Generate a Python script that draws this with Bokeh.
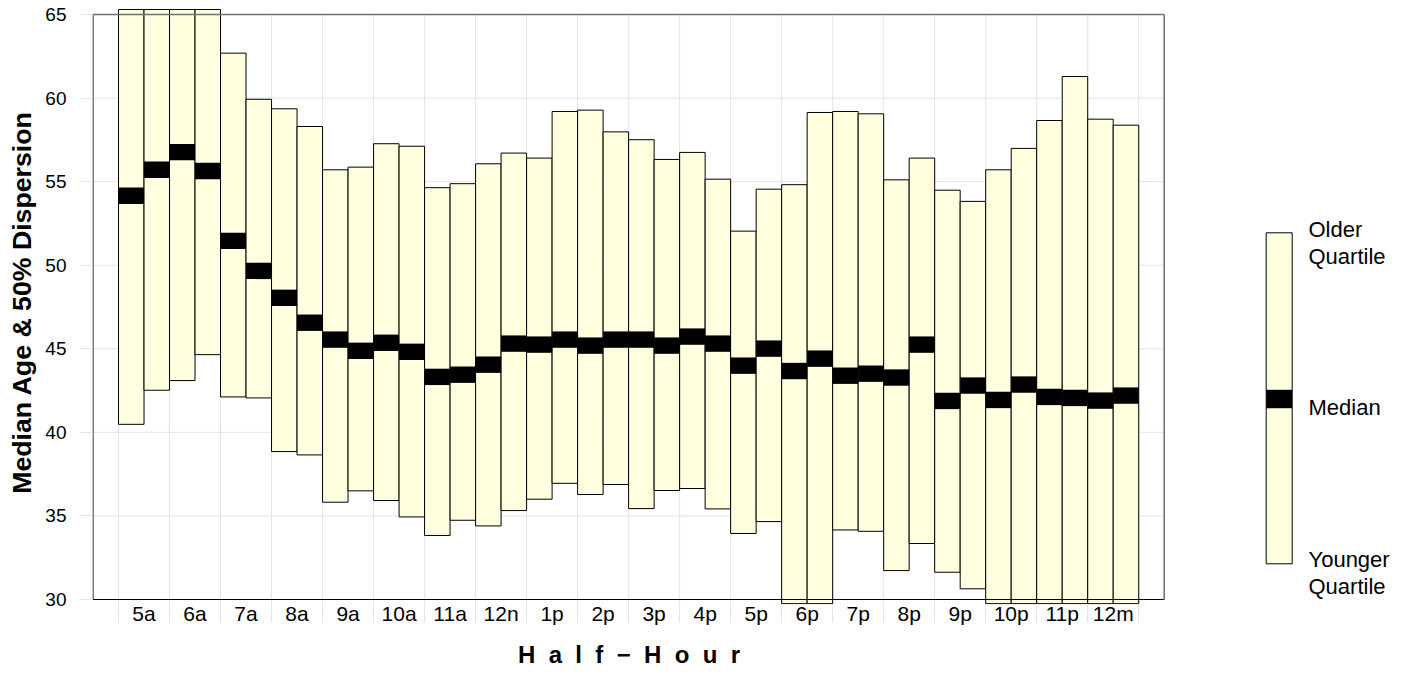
from bokeh.plotting import figure
from bokeh.models import Range1d, FixedTicker, ColumnDataSource
from bokeh.layouts import row
from bokeh.embed import file_html
from bokeh.resources import INLINE
from bokeh.core.properties import value

# ---------------- data ----------------
hour_labels = ["5a", "6a", "7a", "8a", "9a", "10a", "11a", "12n", "1p", "2p",
               "3p", "4p", "5p", "6p", "7p", "8p", "9p", "10p", "11p", "12m"]

older_quartile = [65.3, 65.3, 65.3, 65.3, 62.69, 59.93, 59.36, 58.30, 55.71, 55.87,
                  57.27, 57.12, 54.64, 54.88, 56.07, 56.71, 56.41, 59.20, 59.28, 57.98,
                  57.51, 56.33, 56.75, 55.15, 52.04, 54.55, 54.82, 59.14, 59.20, 59.06,
                  55.11, 56.41, 54.49, 53.82, 55.71, 56.99, 58.66, 61.29, 58.74, 58.38]

younger_quartile = [40.48, 42.52, 43.10, 44.65, 42.12, 42.06, 38.85, 38.65, 35.82, 36.50,
                    35.92, 34.94, 33.83, 34.74, 34.40, 35.32, 36.00, 36.95, 36.28, 36.88,
                    35.44, 36.52, 36.64, 35.42, 33.95, 34.66, 29.75, 29.75, 34.16, 34.08,
                    31.73, 33.35, 31.63, 30.64, 29.75, 29.75, 29.75, 29.75, 29.75, 29.75]

median_age = [54.16, 55.71, 56.77, 55.64, 51.46, 49.66, 48.05, 46.56, 45.55, 44.88,
              45.36, 44.82, 43.32, 43.45, 44.05, 45.31, 45.25, 45.55, 45.19, 45.55,
              45.55, 45.19, 45.73, 45.31, 43.99, 45.01, 43.67, 44.41, 43.39, 43.51,
              43.28, 45.25, 41.88, 42.80, 41.94, 42.86, 42.12, 42.06, 41.90, 42.20]

y_ticks = [30, 35, 40, 45, 50, 55, 60, 65]

# ---------------- styling ----------------
FONT = "Liberation Sans"
FILL = "#FFFFE0"
GRID = "#e4e4e4"
H = 673
BOTTOM = 69
LEFT = 92
MAIN_W = 1165

n = len(median_age)
idx = list(range(n))
src = ColumnDataSource(dict(
    left=idx, right=[i + 1 for i in idx], mid=[i + 0.5 for i in idx],
    q1=younger_quartile, q3=older_quartile, med=median_age))

y_lo, y_hi = min(y_ticks), max(y_ticks)
Y0, Y1 = 29.7, 65.84

p = figure(width=MAIN_W, height=H,
           x_range=Range1d(-1.02, n + 1.05), y_range=Range1d(Y0, Y1),
           output_backend="svg", toolbar_location=None,
           min_border_left=LEFT, min_border_right=0,
           min_border_top=0, min_border_bottom=BOTTOM)
p.outline_line_color = None
p.xgrid.visible = False
p.ygrid.visible = False
p.background_fill_color = "white"

# grid lines
vx = list(range(0, n + 1, 2))
p.segment(x0=vx, x1=vx, y0=[Y0] * len(vx), y1=[y_hi] * len(vx),
          line_color=GRID, line_width=1)
p.segment(x0=[-1] * len(y_ticks), x1=[n + 1] * len(y_ticks), y0=y_ticks, y1=y_ticks,
          line_color=GRID, line_width=1)

# bars
p.quad(left="left", right="right", bottom="q1", top="q3", source=src,
       fill_color=FILL, line_color="black", line_width=1)
p.rect(x="mid", y="med", width=1, height=0.98, source=src,
       fill_color="black", line_color=None)

# frame
p.segment(x0=[-1, -1], x1=[-1, n + 1], y0=[y_lo, y_lo], y1=[y_hi, y_lo],
          line_color="black", line_width=1)
p.segment(x0=[-1, n + 1], x1=[n + 1, n + 1], y0=[y_hi, y_lo], y1=[y_hi, y_hi],
          line_color="#707070", line_width=1.5)

# x axis
xa = p.xaxis[0]
label_pos = list(range(1, 2 * len(hour_labels), 2))
xa.ticker = FixedTicker(ticks=label_pos, minor_ticks=vx)
xa.major_label_overrides = {t: lab for t, lab in zip(label_pos, hour_labels)}
xa.axis_line_color = None
xa.major_tick_line_color = None
xa.major_tick_out = 0
xa.major_tick_in = 0
xa.minor_tick_out = 18
xa.minor_tick_in = 0
xa.minor_tick_line_color = GRID
xa.major_label_standoff = -21
xa.major_label_text_font = FONT
xa.major_label_text_font_size = "21px"
xa.major_label_text_color = "black"
xa.axis_label = "H\u00a0\u00a0a\u00a0\u00a0l\u00a0\u00a0f\u00a0\u00a0\u2212\u00a0\u00a0H\u00a0\u00a0o\u00a0\u00a0u\u00a0\u00a0r"
xa.axis_label_text_font = FONT
xa.axis_label_text_font_style = "bold"
xa.axis_label_text_font_size = "24px"
xa.axis_label_text_color = "black"
xa.axis_label_standoff = 13

# y axis
ya = p.yaxis[0]
ya.ticker = FixedTicker(ticks=y_ticks, minor_ticks=[])
ya.axis_line_color = None
ya.major_tick_out = 12
ya.major_tick_in = 0
ya.major_tick_line_color = GRID
ya.minor_tick_line_color = None
ya.major_label_standoff = 14
ya.major_label_text_font = FONT
ya.major_label_text_font_size = "19px"
ya.major_label_text_color = "black"
ya.axis_label = "Median Age & 50% Dispersion"
ya.axis_label_text_font = FONT
ya.axis_label_text_font_style = "bold"
ya.axis_label_text_font_size = "26.7px"
ya.axis_label_text_color = "black"
ya.axis_label_standoff = 5

# ---------------- legend (separate panel, page-pixel coordinates) ----------------
LW = 1418 - MAIN_W
FH = H - BOTTOM
leg = figure(width=LW, height=H, x_range=Range1d(0, LW), y_range=Range1d(FH, 0),
             output_backend="svg", toolbar_location=None,
             min_border_left=0, min_border_right=0, min_border_top=0,
             min_border_bottom=BOTTOM,
             x_axis_location=None, y_axis_location=None)
leg.outline_line_color = None
leg.xgrid.visible = False
leg.ygrid.visible = False
leg.quad(left=[100.7], right=[126.7], top=[232.3], bottom=[563.3],
         fill_color=FILL, line_color="black", line_width=1)
leg.quad(left=[100.7], right=[126.7], top=[389.3], bottom=[407.7],
         fill_color="black", line_color=None)
leg.text(x=[143] * 5, y=[229.3, 256.3, 406.7, 559.3, 586.3],
         text=["Older", "Quartile", "Median", "Younger", "Quartile"],
         text_font=value(FONT), text_font_size="22px", text_color="black",
         text_baseline="alphabetic", text_align="left")

layout = row(p, leg)
open("out.html", "w").write(file_html(layout, INLINE))
